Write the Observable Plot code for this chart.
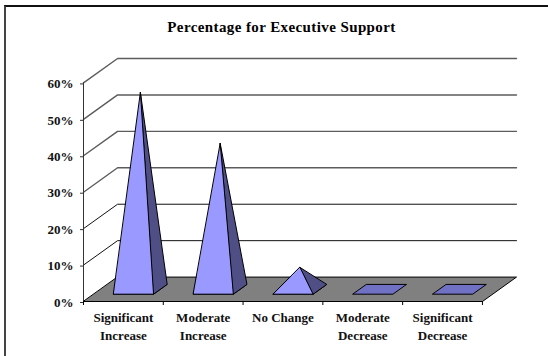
<!DOCTYPE html>
<html>
<head>
<meta charset="utf-8">
<script src="https://cdn.jsdelivr.net/npm/d3@7"></script>
<script src="https://cdn.jsdelivr.net/npm/@observablehq/plot@0.6"></script>
<style>
  html, body { margin: 0; padding: 0; background: #fff; }
  #chart { position: relative; width: 548px; height: 356px; overflow: hidden; }
  #chart svg { position: absolute; left: 0; top: 0; background: transparent; }
  #chart svg > g:last-of-type { letter-spacing: 0.4px; }
  #frame { position: absolute; left: 4px; top: 5px; right: -4px; bottom: -4px;
           border-left: 2px solid #444; border-top: 2px solid #111; }
</style>
</head>
<body>
<div id="chart"><div id="frame"></div></div>
<script>
const title = "Percentage for Executive Support";
const categories = ["Significant\nIncrease", "Moderate\nIncrease", "No Change", "Moderate\nDecrease", "Significant\nDecrease"];
const percentages = [54, 40, 6, 0, 0];
const yTicks = [0, 10, 20, 30, 40, 50, 60];
const slotEdges = [0, 1, 2, 3, 4, 5];

// Oblique projection: depth 0 is the front plane, depth 1 the back wall.
const shiftX = 0.427;  // in category units
const shiftY = 6.7;    // in percentage points
const px = (slot, depth) => slot + depth * shiftX;
const py = (value, depth) => value + depth * shiftY;
const pt = (slot, value, depth, id) => ({x: px(slot, depth), y: py(value, depth), id});

const nearDepth = 0.3, farDepth = 0.7, midDepth = 0.5, halfBase = 0.25;

const floor = [pt(0, 0, 0), pt(5, 0, 0), pt(5, 0, 1), pt(0, 0, 1)];

const bases = [], fronts = [], sides = [];
percentages.forEach((value, i) => {
  const c = i + 0.5;
  const fl = pt(c - halfBase, 0, nearDepth, i), fr = pt(c + halfBase, 0, nearDepth, i);
  const br = pt(c + halfBase, 0, farDepth, i), bl = pt(c - halfBase, 0, farDepth, i);
  const apex = pt(c, value, midDepth, i);
  bases.push(fl, fr, br, bl);
  if (value > 0) {
    fronts.push(fl, fr, apex);
    sides.push(fr, br, apex);
  }
});

// Back-wall gridlines continue as diagonals down the left side wall.
const walls = yTicks.slice(1).flatMap((v) => [pt(0, v, 0, v), pt(0, v, 1, v), pt(5, v, 1, v)]);
const upperWalls = walls.filter((d) => d.id >= 30);
const lowerWalls = walls.filter((d) => d.id < 30);

const font = "'Liberation Serif', 'Times New Roman', serif";

const plot = Plot.plot({
  width: 548,
  height: 356,
  marginLeft: 83,
  marginRight: 32,
  marginTop: 58,
  marginBottom: 55,
  style: {fontFamily: font, fontWeight: "bold", fontSize: "13px", color: "#000"},
  x: {domain: [0, 5 + shiftX]},
  y: {domain: [0, 60 + shiftY]},
  marks: [
    Plot.line(upperWalls, {x: "x", y: "y", z: "id", stroke: "#5c5c5c", strokeWidth: 1.4}),
    Plot.line(lowerWalls, {x: "x", y: "y", z: "id", stroke: "#111", strokeWidth: 1}),
    Plot.line(floor, {x: "x", y: "y", fill: "#808080", stroke: "#000", strokeWidth: 1, curve: "linear-closed"}),
    Plot.ruleX([0], {y1: 0, y2: 60, stroke: "#333", strokeWidth: 1}),
    Plot.line(bases, {x: "x", y: "y", z: "id", fill: "#7070c4", stroke: "#000", strokeWidth: 1, curve: "linear-closed"}),
    Plot.line(sides, {x: "x", y: "y", z: "id", fill: "#4f4f86", stroke: "#000", strokeWidth: 1, curve: "linear-closed"}),
    Plot.line(fronts, {x: "x", y: "y", z: "id", fill: "#9999ff", stroke: "#000", strokeWidth: 1, curve: "linear-closed"}),
    Plot.axisY({ticks: yTicks, tickFormat: (d) => `${d}%`, label: null, tickSize: 3, tickPadding: 7,
                fontSize: 13, stroke: "#333", fill: "#111", dy: 1}),
    Plot.axisX({ticks: slotEdges, tickFormat: () => "", label: null, tickSize: 4, stroke: "#000"}),
    Plot.text(categories, {x: (d, i) => i + 0.5, y: 0, text: (d) => d, lineAnchor: "top", dy: 7,
                           lineHeight: 1.42, fontSize: 13, fill: "#111", fontWeight: "bold"}),
    Plot.text([title], {frameAnchor: "top", dx: -18.5, dy: -31, lineAnchor: "middle", fontSize: 15,
                        fontWeight: "bold", fill: "#000"})
  ]
});
document.getElementById("chart").appendChild(plot);
</script>
</body>
</html>
